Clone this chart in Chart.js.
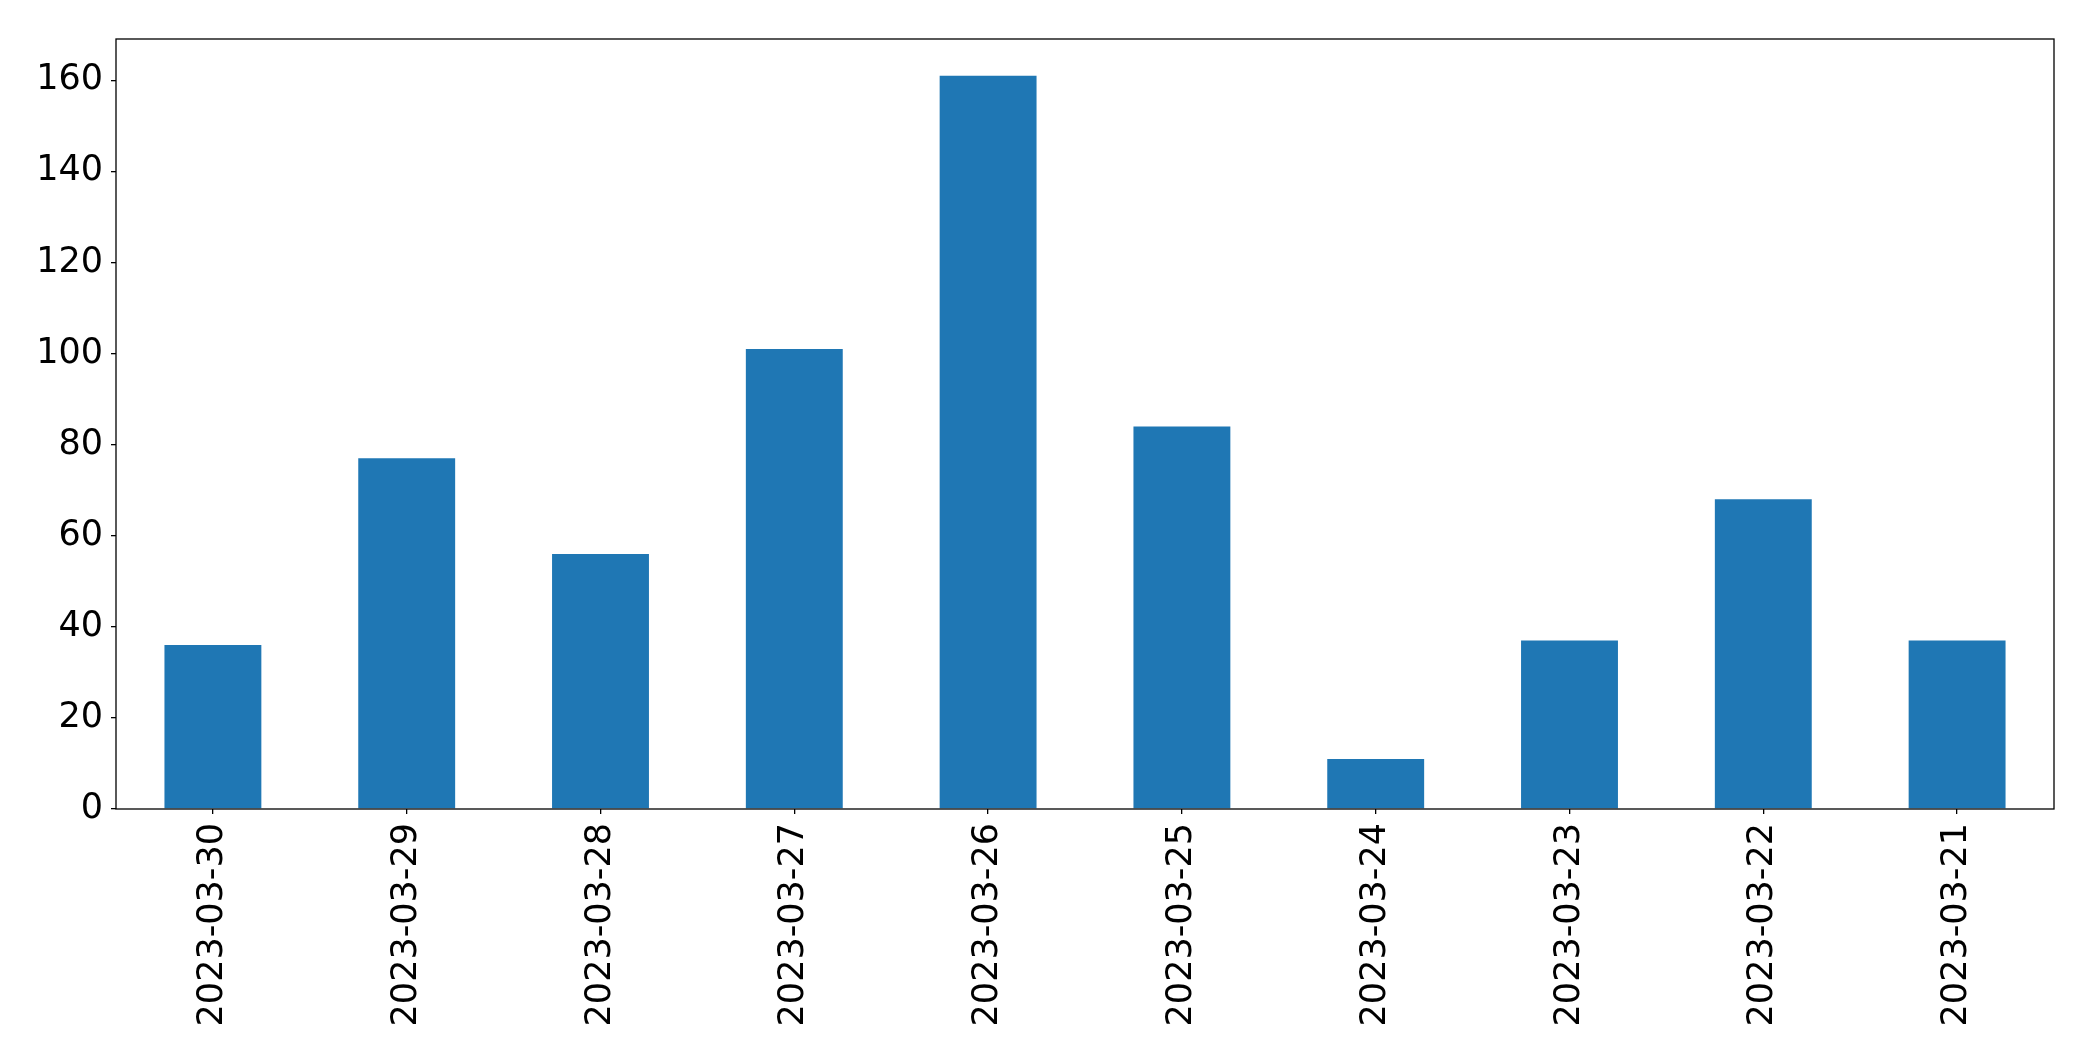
<!DOCTYPE html>
<html>
<head>
<meta charset="utf-8">
<script src="https://cdn.jsdelivr.net/npm/chart.js@4/dist/chart.umd.min.js"></script>
<style>
  html, body { margin: 0; padding: 0; background: #fff; }
  #wrap { width: 2093px; height: 1061px; }
</style>
</head>
<body>
<div id="wrap"><canvas id="c" width="2093" height="1061"></canvas></div>
<script>
const categories = ["2023-03-30","2023-03-29","2023-03-28","2023-03-27","2023-03-26","2023-03-25","2023-03-24","2023-03-23","2023-03-22","2023-03-21"];
const counts = [36, 77, 56, 101, 161, 84, 11, 37, 68, 37];
const yMax = 169.05;
const yStep = 20;

const frame = {
  id: 'frame',
  afterDraw(chart) {
    const a = chart.chartArea, ctx = chart.ctx;
    ctx.save();
    ctx.strokeStyle = '#000';
    ctx.lineWidth = 1.3;
    ctx.strokeRect(a.left, a.top, a.right - a.left, a.bottom - a.top);
    ctx.restore();
  }
};

new Chart(document.getElementById('c'), {
  type: 'bar',
  data: {
    labels: categories,
    datasets: [{
      data: counts,
      backgroundColor: '#1f77b4',
      borderWidth: 0,
      barPercentage: 0.5,
      categoryPercentage: 1.0
    }]
  },
  options: {
    responsive: false,
    animation: false,
    events: [],
    layout: { padding: { top: 39, right: 39, left: 0, bottom: 0 } },
    plugins: { legend: { display: false }, tooltip: { enabled: false } },
    scales: {
      x: {
        grid: { display: true, offset: false, drawOnChartArea: false, drawTicks: true, tickLength: 5, color: '#000', lineWidth: 1.3 },
        border: { display: false },
        ticks: {
          color: '#000',
          font: { family: 'DejaVu Sans', size: 35 },
          minRotation: 90, maxRotation: 90,
          padding: 9,
          autoSkip: false
        },
        afterFit(scale) { scale.height = 252; }
      },
      y: {
        min: 0,
        max: yMax,
        grid: { display: true, drawOnChartArea: false, drawTicks: true, tickLength: 5, color: '#000', lineWidth: 1.3 },
        border: { display: false },
        ticks: {
          stepSize: yStep,
          includeBounds: false,
          color: '#000',
          font: { family: 'DejaVu Sans', size: 35 },
          padding: 8
        },
        afterFit(scale) { scale.width = 116; }
      }
    }
  },
  plugins: [frame]
});
</script>
</body>
</html>
